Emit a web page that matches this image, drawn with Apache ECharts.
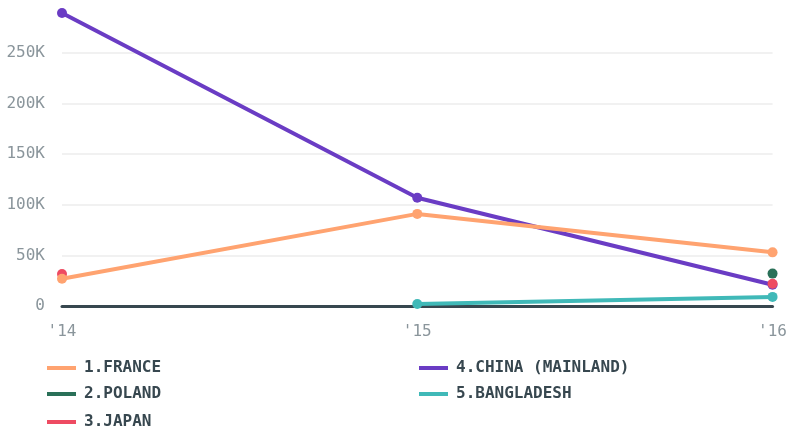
<!DOCTYPE html>
<html><head><meta charset="utf-8">
<script src="https://cdn.jsdelivr.net/npm/echarts@6/dist/echarts.min.js"></script>
<style>html,body{margin:0;padding:0;background:#fff}#c{width:790px;height:430px}</style>
</head><body><div id="c"></div>
<script>
const categories = ["'14", "'15", "'16"];
const franceValues = [27000, 91000, 53000];
const polandValues = [null, null, 32000];
const japanValues = [31500, null, 22000];
const chinaValues = [289500, 107000, 21000];
const bangladeshValues = [null, 2000, 9000];
const seriesNames = ['1.FRANCE', '2.POLAND', '3.JAPAN', '4.CHINA (MAINLAND)', '5.BANGLADESH'];
const seriesColors = ['#ffa370', '#2a7058', '#ee4b62', '#6a3cc4', '#40b9b8'];
const seriesValues = [franceValues, polandValues, japanValues, chinaValues, bangladeshValues];
const yTickStep = 50000;

const font = 'DejaVu Sans Mono';
const chart = echarts.init(document.getElementById('c'));
const zOrder = [6, 2, 4, 3, 5];
const legendPos = [[47, 360], [47, 386], [47, 414], [419, 360], [419, 386]];
chart.setOption({
  animation: false,
  textStyle: { fontFamily: font },
  grid: { left: 62, right: 15, top: 13, bottom: 124 },
  legend: seriesNames.map((n, i) => ({
    data: [n], left: legendPos[i][0], top: legendPos[i][1], padding: 0,
    itemWidth: 29, itemHeight: 4, itemGap: 8, icon: 'rect',
    textStyle: { fontFamily: font, fontSize: 16, fontWeight: 'bold', color: '#37474f', padding: [0, 0, 0, 3] }
  })),
  xAxis: {
    type: 'category', data: categories, boundaryGap: false,
    axisLine: { show: true, lineStyle: { color: '#37474f', width: 3 } },
    axisTick: { show: false },
    axisLabel: { color: '#8a959b', fontSize: 16, margin: 18, fontFamily: font }
  },
  yAxis: {
    type: 'value', min: 0, max: Math.max(...chinaValues), interval: yTickStep,
    axisLine: { show: false }, axisTick: { show: false },
    axisLabel: { color: '#8a959b', fontSize: 16, margin: 17, fontFamily: font, showMaxLabel: false,
      formatter: v => v === 0 ? '0' : (v / 1000) + 'K' },
    splitLine: { lineStyle: { color: ['transparent', '#ececec', '#ececec', '#ececec', '#ececec', '#ececec', 'transparent'], width: 1.5 } }
  },
  series: seriesNames.map((n, i) => ({
    name: n, type: 'line', data: seriesValues[i], z: zOrder[i],
    symbol: 'circle', symbolSize: 10, showAllSymbol: true, connectNulls: false,
    lineStyle: { color: seriesColors[i], width: 4 },
    itemStyle: { color: seriesColors[i], borderColor: seriesColors[i], borderWidth: 0 }
  }))
});
</script></body></html>
